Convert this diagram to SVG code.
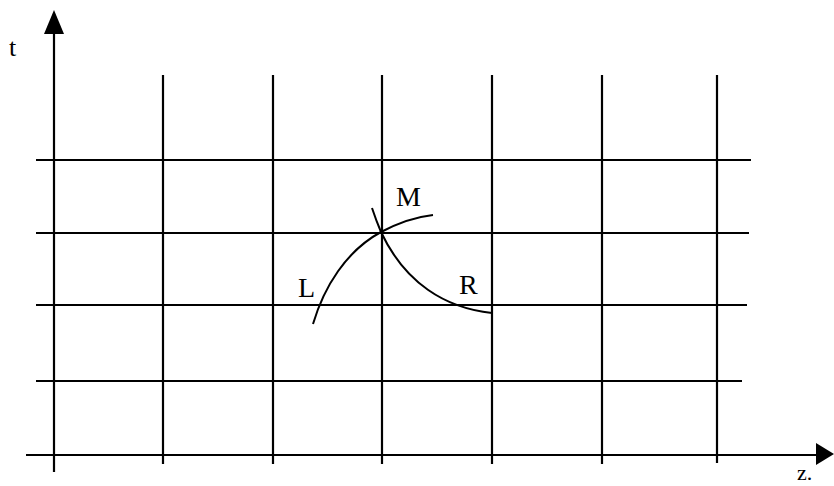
<svg xmlns="http://www.w3.org/2000/svg" width="834" height="486" viewBox="0 0 834 486">
<style>
.g{stroke:#000;stroke-width:2.2;fill:none}
.c{stroke:#000;stroke-width:2;fill:none}
text{font-family:"Liberation Serif","Times New Roman",serif;font-size:28px;fill:#000}
</style>
<rect width="834" height="486" fill="#fff"/>
<g id="grid">
<line class="g" x1="36" y1="160" x2="751" y2="160"/>
<line class="g" x1="36" y1="233" x2="749" y2="233"/>
<line class="g" x1="36" y1="305" x2="747" y2="305"/>
<line class="g" x1="36" y1="381" x2="742" y2="381"/>
<line class="g" x1="163" y1="75" x2="163" y2="464"/>
<line class="g" x1="273" y1="75" x2="273" y2="464"/>
<line class="g" x1="382" y1="75" x2="382" y2="464"/>
<line class="g" x1="492" y1="75" x2="492" y2="464"/>
<line class="g" x1="602" y1="75" x2="602" y2="464"/>
<line class="g" x1="717" y1="75" x2="717" y2="463"/>
</g>
<g id="t-axis">
<line class="g" x1="54" y1="30" x2="54" y2="472"/>
<polygon points="54,10 64,34 44,34" fill="#000"/>
<text x="9" y="56" style="font-size:26px">t</text>
</g>
<g id="z-axis">
<line class="g" x1="26" y1="455" x2="820" y2="455"/>
<polygon points="834,454 816,443 816,465" fill="#000"/>
<text x="797" y="480" style="font-size:22px">z.</text>
</g>
<g id="connectors">
<path class="c" d="M313,324 C324,287 346,251 381,232 C400,222 415,217 433,215"/>
<path class="c" d="M372,208 C375,217 378,225 381,232 C405,283 445,308 492,313"/>
</g>
<g id="labels">
<text x="396" y="206">M</text>
<text x="298" y="297">L</text>
<text x="459" y="294">R</text>
</g>
</svg>
